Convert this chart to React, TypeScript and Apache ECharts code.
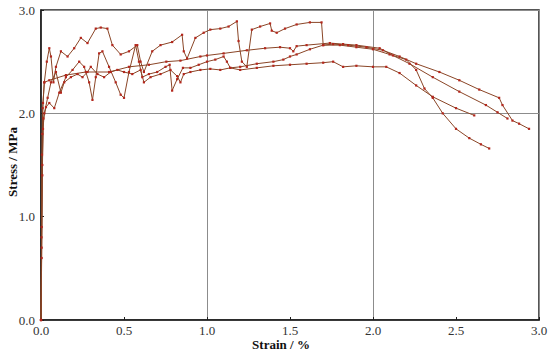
import React, { useEffect, useRef } from "react";
import * as echarts from "echarts";

// Specimen A (top saw-tooth curve)
const strainA = [0, 0.004, 0.008, 0.012, 0.02, 0.035, 0.05, 0.06, 0.075, 0.09, 0.12, 0.16, 0.2, 0.24, 0.28, 0.33, 0.36, 0.4, 0.43, 0.48, 0.53, 0.58, 0.6, 0.62, 0.67, 0.72, 0.79, 0.85, 0.86, 0.88, 0.93, 0.98, 1.02, 1.08, 1.13, 1.18, 1.19, 1.21, 1.24, 1.27, 1.32, 1.38, 1.39, 1.42, 1.47, 1.54, 1.62, 1.69, 1.7, 1.76, 1.85, 1.96, 2.06, 2.16, 2.26, 2.4, 2.52, 2.64, 2.76, 2.78, 2.84, 2.88, 2.94];
const stressA = [0, 0.9, 1.8, 2.1, 2.3, 2.5, 2.63, 2.55, 2.3, 2.45, 2.6, 2.55, 2.63, 2.73, 2.68, 2.82, 2.83, 2.82, 2.66, 2.57, 2.6, 2.66, 2.5, 2.4, 2.6, 2.66, 2.69, 2.76, 2.6, 2.53, 2.73, 2.78, 2.81, 2.82, 2.84, 2.89, 2.7, 2.5, 2.45, 2.81, 2.84, 2.87, 2.8, 2.78, 2.82, 2.86, 2.88, 2.88, 2.66, 2.67, 2.66, 2.64, 2.61, 2.55, 2.48, 2.4, 2.32, 2.23, 2.15, 2.08, 1.93, 1.9, 1.85];

// Specimen B (smooth curve)
const strainB = [0, 0.003, 0.006, 0.01, 0.02, 0.05, 0.15, 0.27, 0.41, 0.53, 0.65, 0.755, 0.84, 0.96, 1.0, 1.1, 1.24, 1.35, 1.44, 1.5, 1.52, 1.54, 1.6, 1.74, 1.82, 1.9, 2.04, 2.12, 2.22, 2.36, 2.52, 2.68, 2.75, 2.81];
const stressB = [0, 0.8, 1.6, 2.05, 2.3, 2.32, 2.37, 2.4, 2.4, 2.45, 2.47, 2.5, 2.51, 2.55, 2.56, 2.58, 2.61, 2.63, 2.64, 2.63, 2.6, 2.65, 2.66, 2.68, 2.67, 2.66, 2.63, 2.56, 2.48, 2.35, 2.21, 2.08, 2.01, 1.95];

// Specimen C (intermediate saw-tooth curve)
const strainC = [0, 0.004, 0.008, 0.015, 0.03, 0.05, 0.08, 0.11, 0.15, 0.19, 0.23, 0.26, 0.29, 0.31, 0.33, 0.35, 0.37, 0.41, 0.45, 0.48, 0.5, 0.53, 0.57, 0.59, 0.61, 0.65, 0.7, 0.75, 0.775, 0.79, 0.82, 0.855, 0.9, 0.95, 1.0, 1.05, 1.1, 1.12, 1.14, 1.2, 1.3, 1.4, 1.46, 1.5, 1.54, 1.62, 1.7, 1.8, 1.9, 2.0, 2.1, 2.2, 2.26, 2.31, 2.36, 2.42, 2.5, 2.58, 2.65, 2.7];
const stressC = [0, 0.7, 1.5, 1.95, 2.06, 2.1, 2.05, 2.2, 2.35, 2.42, 2.5, 2.45, 2.3, 2.13, 2.35, 2.58, 2.6, 2.45, 2.3, 2.18, 2.15, 2.4, 2.66, 2.5, 2.35, 2.38, 2.4, 2.45, 2.47, 2.22, 2.33, 2.44, 2.44, 2.47, 2.5, 2.52, 2.55, 2.5, 2.44, 2.45, 2.48, 2.5, 2.52, 2.55, 2.57, 2.62, 2.66, 2.66, 2.64, 2.62, 2.57, 2.52, 2.42, 2.24, 2.15, 2.0, 1.85, 1.76, 1.7, 1.66];

// Specimen D (lower plateau curve)
const strainD = [0, 0.004, 0.008, 0.012, 0.02, 0.04, 0.06, 0.09, 0.12, 0.14, 0.18, 0.22, 0.25, 0.28, 0.3, 0.34, 0.38, 0.42, 0.46, 0.5, 0.55, 0.6, 0.62, 0.66, 0.72, 0.78, 0.82, 0.84, 0.86, 0.9, 0.96, 1.02, 1.08, 1.14, 1.2, 1.3, 1.4, 1.5, 1.6, 1.7, 1.76, 1.82, 1.9, 2.0, 2.08, 2.16, 2.26, 2.36, 2.5, 2.61];
const stressD = [0, 0.6, 1.4, 1.85, 2.0, 2.15, 2.3, 2.4, 2.2, 2.3, 2.35, 2.38, 2.35, 2.4, 2.45, 2.38, 2.35, 2.4, 2.42, 2.4, 2.38, 2.42, 2.3, 2.35, 2.38, 2.42, 2.36, 2.3, 2.38, 2.4, 2.42, 2.43, 2.42, 2.44, 2.42, 2.44, 2.46, 2.47, 2.48, 2.49, 2.5, 2.45, 2.46, 2.45, 2.45, 2.39, 2.27, 2.16, 2.05, 1.98];

const strainTicks = [0, 0.5, 1.0, 1.5, 2.0, 2.5, 3.0];
const stressTicks = [0, 1.0, 2.0, 3.0];
const xTitle = "Strain / %";
const yTitle = "Stress / MPa";

const specimens = [
  { x: strainA, y: stressA },
  { x: strainB, y: stressB },
  { x: strainC, y: stressC },
  { x: strainD, y: stressD },
];

const FONT = "'Liberation Serif', 'Times New Roman', Times, serif";

export default function App() {
  const ref = useRef<HTMLDivElement>(null);
  useEffect(() => {
    if (!ref.current) return;
    const chart = echarts.init(ref.current, undefined, { renderer: "svg" });
    const series: any[] = specimens.map((s) => ({
      type: "line",
      data: s.x.map((v, i) => [v, s.y[i]]),
      xAxisIndex: 0,
      yAxisIndex: 0,
      showSymbol: true,
      showAllSymbol: true,
      symbol: "rect",
      symbolSize: 2.2,
      z: 3,
      lineStyle: { color: "#8a4526", width: 1 },
      itemStyle: { color: "#b3261c" },
    }));
    chart.setOption({
      animation: false,
      backgroundColor: "#ffffff",
      textStyle: { fontFamily: FONT },
      grid: {
        left: 41,
        right: 11,
        top: 10,
        bottom: 33,
        containLabel: false,
        outerBoundsMode: "none",
        show: true,
        borderColor: "#1e1e1e",
        borderWidth: 1.5,
        backgroundColor: "transparent",
      },
      graphic: [
        {
          type: "text",
          x: 281,
          y: 344,
          style: {
            text: xTitle,
            font: "bold 13px " + FONT,
            fill: "#111",
            align: "center",
            verticalAlign: "middle",
          },
        },
        {
          type: "text",
          x: 12,
          y: 162,
          rotation: Math.PI / 2,
          style: {
            text: yTitle,
            font: "bold 13px " + FONT,
            fill: "#111",
            align: "center",
            verticalAlign: "middle",
          },
        },
      ],
      xAxis: [
        {
          type: "value",
          min: strainTicks[0],
          max: strainTicks[strainTicks.length - 1],
          interval: 0.5,
          axisLine: { show: true, lineStyle: { color: "#1e1e1e", width: 1.5 } },
          axisTick: { show: true, inside: true, length: 3, lineStyle: { color: "#1e1e1e" } },
          axisLabel: { fontFamily: FONT, fontSize: 13, color: "#333", margin: 4, formatter: (v: number) => v.toFixed(1) },
          splitLine: { show: false },
        },
        {
          type: "value",
          min: 0,
          max: 3,
          interval: 1,
          position: "top",
          axisLine: { show: false },
          axisTick: { show: false },
          axisLabel: { show: false },
          splitLine: { show: true, lineStyle: { color: "#8c8c8c", width: 1 } },
        },
      ],
      yAxis: [
        {
          type: "value",
          min: stressTicks[0],
          max: stressTicks[stressTicks.length - 1],
          interval: 1,
          axisLine: { show: true, lineStyle: { color: "#1e1e1e", width: 1.5 } },
          axisTick: { show: true, inside: true, length: 3, lineStyle: { color: "#1e1e1e" } },
          axisLabel: { fontFamily: FONT, fontSize: 13, color: "#333", margin: 6, formatter: (v: number) => v.toFixed(1) },
          splitLine: { show: false },
        },
        {
          type: "value",
          min: 0,
          max: 3,
          interval: 2,
          position: "right",
          axisLine: { show: false },
          axisTick: { show: false },
          axisLabel: { show: false },
          splitLine: { show: true, lineStyle: { color: "#8c8c8c", width: 1 } },
        },
      ],
      series,
    });
    return () => chart.dispose();
  }, []);
  return (
    <div
      ref={ref}
      style={{ position: "fixed", left: 0, top: 0, width: 550, height: 353, background: "#fff" }}
    />
  );
}
